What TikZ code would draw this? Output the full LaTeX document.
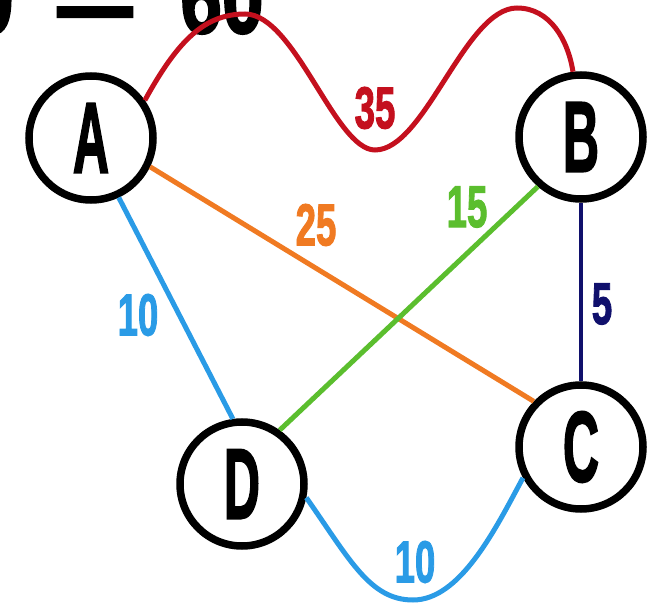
\documentclass[tikz,border=0pt]{standalone}
\usepackage{fontspec}
\setmainfont{Liberation Sans}
\newfontfamily\heavy{Liberation Sans Bold}[FakeBold=2.2]
\usepackage{graphicx}

\definecolor{wred}{HTML}{C4101E}
\definecolor{worange}{HTML}{F07A22}
\definecolor{wgreen}{HTML}{5BBE2E}
\definecolor{wnavy}{HTML}{10106C}
\definecolor{wblue}{HTML}{2A9BE6}

\newcommand{\narrow}[2]{\scalebox{#1}[1]{\heavy #2}}

\tikzset{
    vertex/.style={circle, draw=black, line width=7.5pt, fill=white,
        minimum size=124pt, inner sep=0pt, font=\fontsize{100}{100}\selectfont},
    edge/.style={line width=5pt},
    weight/.style={inner sep=0pt, font=\fontsize{59}{59}\selectfont},
    heading/.style={inner sep=0pt, font=\fontsize{100}{100}\selectfont}
}

\begin{document}
\begin{tikzpicture}[x=1pt, y=-1pt]
    \useasboundingbox (0,0) rectangle (651,604);
    \clip (0,0) rectangle (651,604);

    % cut-off heading
    \node[heading, anchor=base east] (h1) at (14,33) {\narrow{0.75}{0}};
    \node[heading, anchor=base] (h2) at (95,39) {\narrow{0.75}{—}};
    \node[heading, anchor=base] (h3) at (222,33) {\narrow{0.75}{60}};

    % vertices
    \node[vertex] (A) at (91,138) {\narrow{0.5}{A}};
    \node[vertex] (B) at (581,137) {\narrow{0.5}{B}};
    \node[vertex] (C) at (581,447) {\narrow{0.5}{C}};
    \node[vertex] (D) at (242,484) {\narrow{0.5}{D}};

    % edges
    \draw[edge, wred] (A.35) .. controls (178,40) and (205,14) .. (245,14)
        .. controls (295,14) and (335,150) .. (375,150)
        .. controls (425,150) and (465,8) .. (517,8)
        .. controls (550,8) and (568,40) .. (B.97);
    \draw[edge, worange] (A.-26) -- (C.136);
    \draw[edge, wgreen] (B.-131) -- (D.55);
    \draw[edge, wblue] (A.-65) -- (D.98);
    \draw[line width=4pt, wnavy] (B) -- (C);
    \draw[edge, wblue] (D.-12) .. controls (350,560) and (370,600) .. (413,600)
        .. controls (460,600) and (495,530) .. (C.208);

    % weights
    \node[weight, wred] (wAB) at (375,108) {\narrow{0.62}{35}};
    \node[weight, worange] (wAC) at (316,225) {\narrow{0.62}{25}};
    \node[weight, wgreen] (wBD) at (467,207) {\narrow{0.62}{15}};
    \node[weight, wnavy] (wBC) at (602,304) {\narrow{0.62}{5}};
    \node[weight, wblue] (wAD) at (138,315) {\narrow{0.62}{10}};
    \node[weight, wblue] (wDC) at (415,562) {\narrow{0.62}{10}};
\end{tikzpicture}
\end{document}
